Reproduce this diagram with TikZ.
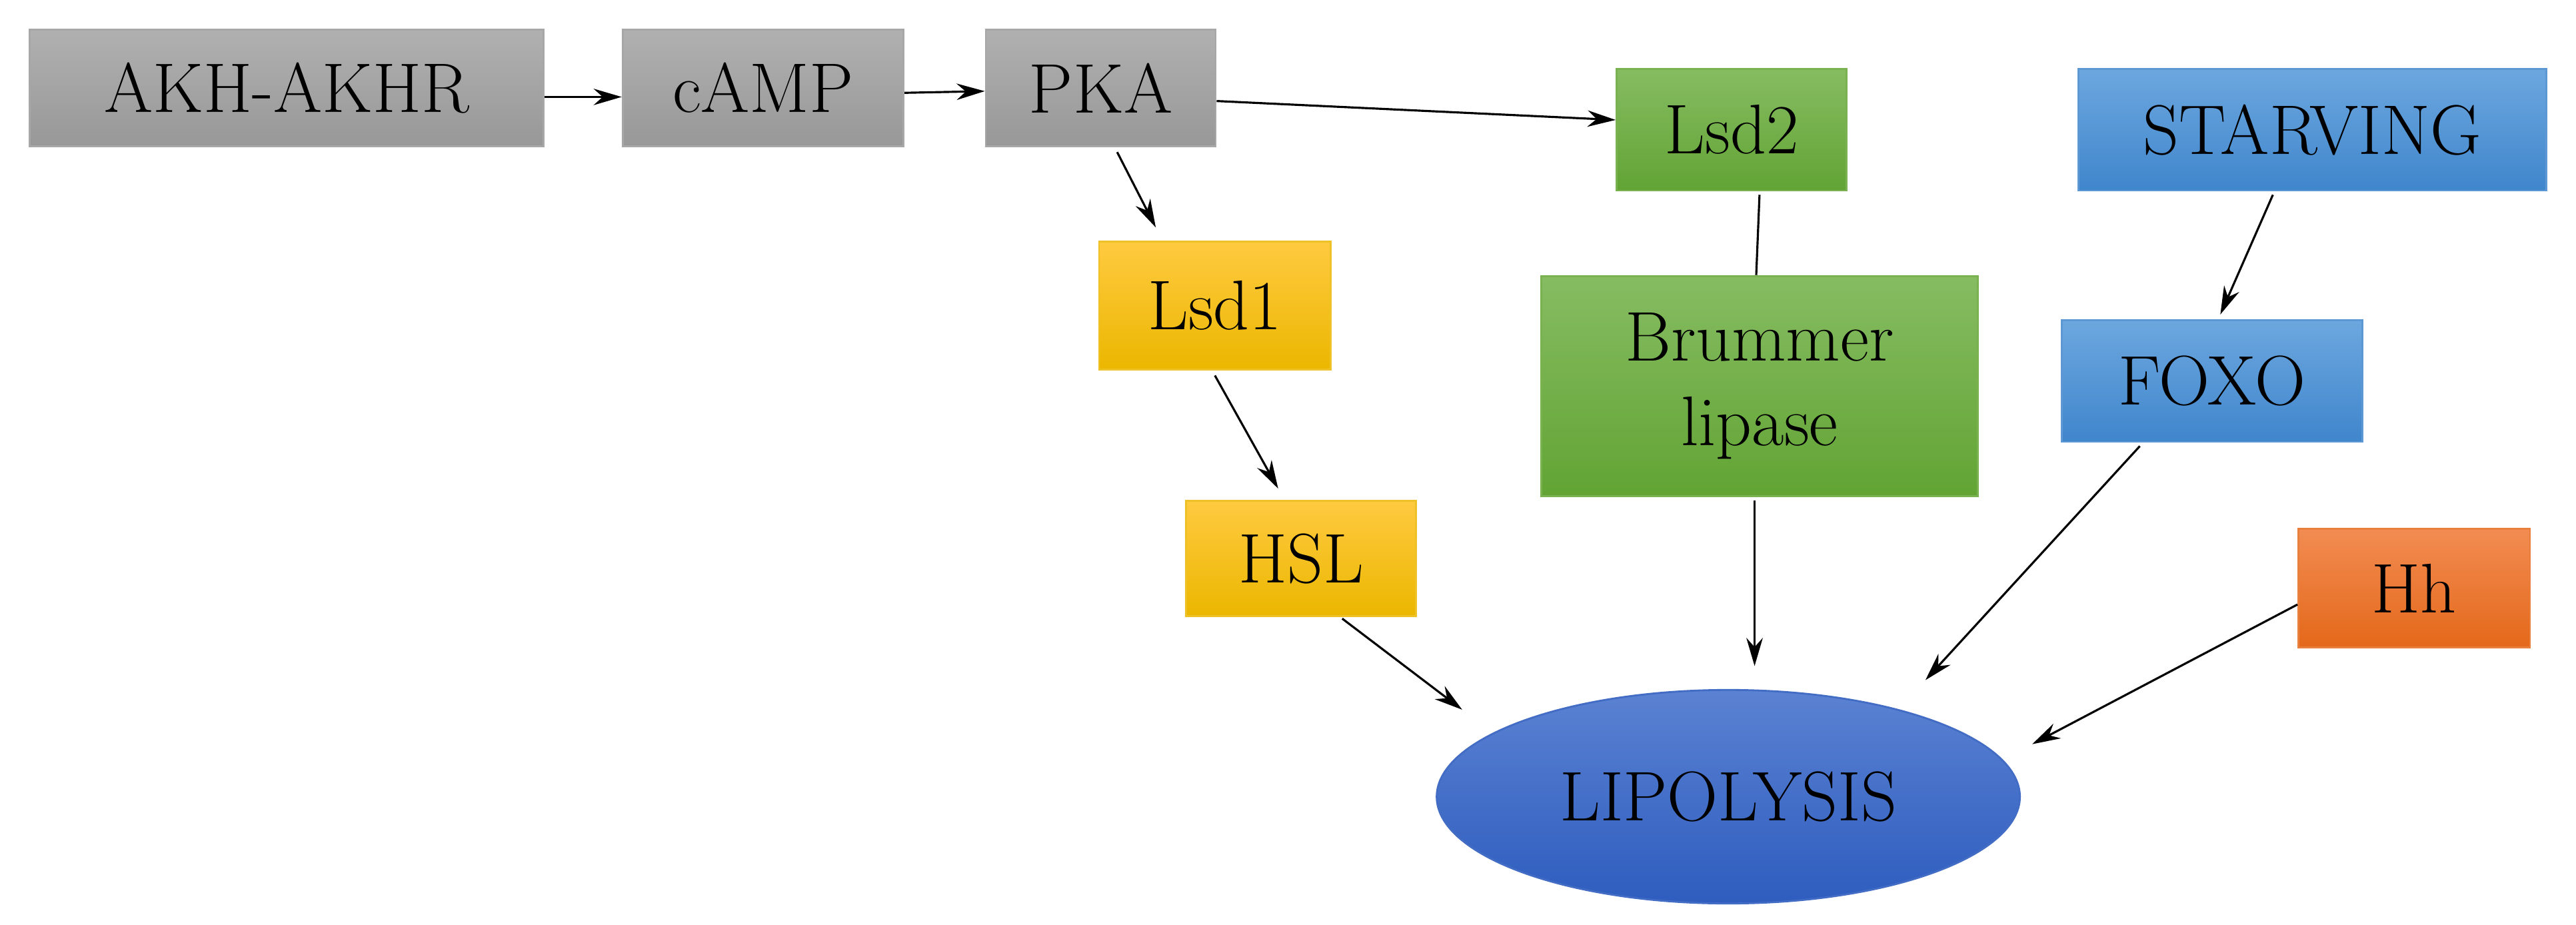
\documentclass[tikz,border=0pt]{standalone}
\usetikzlibrary{arrows.meta,calc,shapes.geometric}
\definecolor{gT}{HTML}{B0B0B0}\definecolor{gB}{HTML}{989898}
\definecolor{grT}{HTML}{86BC62}\definecolor{grB}{HTML}{62A434}
\definecolor{bT}{HTML}{6CA7DF}\definecolor{bB}{HTML}{4086CC}
\definecolor{yT}{HTML}{FFCA40}\definecolor{yB}{HTML}{EBB700}
\definecolor{oT}{HTML}{F28C52}\definecolor{oB}{HTML}{E4681A}
\definecolor{eT}{HTML}{5B82D2}\definecolor{eB}{HTML}{2E5DBF}
\begin{document}
\begin{tikzpicture}[x=0.02465cm,y=-0.02465cm,
  box/.style={rectangle,inner sep=0pt,align=center,font=\fontsize{30}{36}\selectfont,draw=#1B!85!white,line width=0.8pt,top color=#1T,bottom color=#1B},
  arr/.style={-{Stealth[length=12pt,width=7pt]},line width=0.9pt},
  ln/.style={line width=0.9pt}]
\useasboundingbox (0,0) rectangle (1568,563);
\node[box=g,minimum width=313*0.02465cm,minimum height=71*0.02465cm] (akh) at (174.5,53.5) {AKH-AKHR};
\node[box=g,minimum width=171*0.02465cm,minimum height=71*0.02465cm] (camp) at (464.5,53.5) {cAMP};
\node[box=g,minimum width=140*0.02465cm,minimum height=71*0.02465cm] (pka) at (670,53.5) {PKA};
\node[box=gr,minimum width=140*0.02465cm,minimum height=74*0.02465cm] (lsdb) at (1054,79) {Lsd2};
\node[box=b,minimum width=285*0.02465cm,minimum height=74*0.02465cm] (starv) at (1407.5,79) {STARVING};
\node[box=y,minimum width=141*0.02465cm,minimum height=78*0.02465cm] (lsda) at (739.5,186) {Lsd1};
\node[box=gr,minimum width=266*0.02465cm,minimum height=134*0.02465cm] (brum) at (1071,235) {Brummer\\lipase};
\node[box=b,minimum width=183*0.02465cm,minimum height=74*0.02465cm] (foxo) at (1346.5,232) {FOXO};
\node[box=y,minimum width=140*0.02465cm,minimum height=70*0.02465cm] (hsl) at (792,340) {HSL};
\node[box=o,minimum width=141*0.02465cm,minimum height=72*0.02465cm] (hh) at (1469.5,358) {Hh};
\node[ellipse,minimum width=355*0.02465cm,minimum height=130*0.02465cm,top color=eT,bottom color=eB,draw=eB!90!white,line width=0.8pt,font=\fontsize{30}{36}\selectfont] (lip) at (1052,485) {LIPOLYSIS};
\coordinate (c1) at (374,59);
\draw[arr] (akh.east |- c1) -- (camp.west |- c1);
\draw[arr] ($(camp.east)+(0,3)$) -- ($(pka.west)+(0,2)$);
\draw[arr] ($(pka.east)+(0,8)$) -- ($(lsdb.west)+(0,-6)$);
\draw[arr] ($(pka.south)+(10,3)$) -- ($(lsda.north)+(-36,-8)$);
\draw[ln] ($(lsdb.south)+(17,2)$) -- ($(brum.north)+(-2,0)$);
\draw[arr] ($(starv.south)+(-24,2)$) -- ($(foxo.north)+(5,-3)$);
\draw[arr] ($(lsda.south)+(0,3)$) -- ($(hsl.north)+(-14,-7)$);
\draw[arr] ($(hsl.south)+(25,1)$) -- (890,432);
\draw[arr] ($(brum.south)+(-3,2)$) -- ($(lip.north)+(16,-14)$);
\draw[arr] ($(foxo.south)+(-44,2)$) -- (1172,414);
\draw[arr] ($(hh.west)+(0,10)$) -- (1237,453);
\end{tikzpicture}
\end{document}
